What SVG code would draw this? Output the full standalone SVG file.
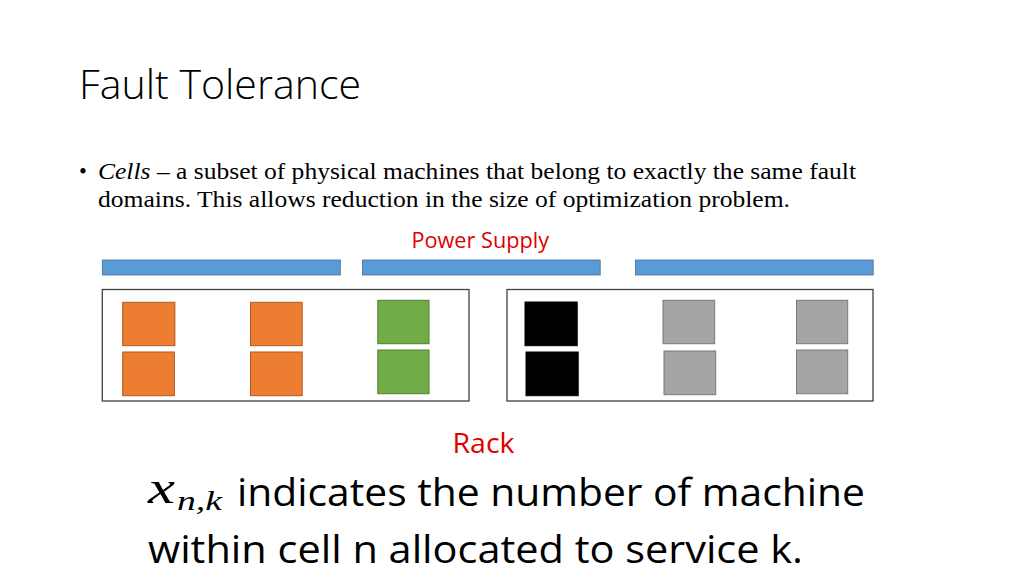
<svg xmlns="http://www.w3.org/2000/svg" width="1024" height="576" viewBox="0 0 1024 576">
<style>
.title{font-family:"Open Sans","Liberation Sans",sans-serif;font-weight:300;font-size:41px;fill:#000}
.body{font-family:"Liberation Serif",serif;font-size:22.5px;fill:#000}
.red{font-family:"Open Sans","Liberation Sans",sans-serif;fill:#E00000}
.big{font-family:"Open Sans","Liberation Sans",sans-serif;font-size:38px;fill:#000}
.math{font-family:"Liberation Serif",serif;font-style:italic;fill:#000}
.bar{fill:#5B9BD5;stroke:#41719C;stroke-width:0.8}
.rack{fill:#fff;stroke:#404040;stroke-width:1.3}
.or{fill:#ED7D31;stroke:#AE5A21;stroke-width:1}
.gr{fill:#70AD47;stroke:#507E32;stroke-width:1}
.bk{fill:#000;stroke:#000;stroke-width:1}
.gy{fill:#A5A5A5;stroke:#787878;stroke-width:1}
</style>
<rect width="1024" height="576" fill="#fff"/>
<text class="title" x="79" y="99" textLength="282" lengthAdjust="spacingAndGlyphs">Fault Tolerance</text>
<text class="body" x="79" y="179">•</text>
<text class="body" x="98" y="179" textLength="758" lengthAdjust="spacingAndGlyphs"><tspan font-style="italic">Cells</tspan> – a subset of physical machines that belong to exactly the same fault</text>
<text class="body" x="98" y="206.5" textLength="692" lengthAdjust="spacingAndGlyphs">domains. This allows reduction in the size of optimization problem.</text>
<g id="power-supply">
<text class="red" x="411.5" y="247.7" font-size="21" textLength="137.5" lengthAdjust="spacingAndGlyphs">Power Supply</text>
<rect class="bar" x="102.3" y="260" width="238" height="15"/>
<rect class="bar" x="362.5" y="260" width="237.7" height="15"/>
<rect class="bar" x="635.5" y="260" width="237.7" height="15"/>
</g>
<g id="rack1">
<rect class="rack" x="102.3" y="289.5" width="366.7" height="111.5"/>
<rect class="or" x="122.7" y="302.3" width="52.2" height="43.4"/>
<rect class="or" x="122.7" y="352" width="51.7" height="43.7"/>
<rect class="or" x="250.5" y="302.3" width="51.7" height="43.4"/>
<rect class="or" x="250.5" y="352" width="51.7" height="43.7"/>
<rect class="gr" x="377.8" y="300.3" width="51.2" height="43.4"/>
<rect class="gr" x="377.8" y="350" width="51.2" height="43.7"/>
</g>
<g id="rack2">
<rect class="rack" x="507" y="289.5" width="366" height="111.5"/>
<rect class="bk" x="525" y="302" width="52.2" height="43.7"/>
<rect class="bk" x="526" y="352" width="52.2" height="43.7"/>
<rect class="gy" x="663" y="300.3" width="51.7" height="43.4"/>
<rect class="gy" x="664" y="351" width="51.7" height="43.7"/>
<rect class="gy" x="796.5" y="300.3" width="51.2" height="43.4"/>
<rect class="gy" x="796.5" y="350" width="51.2" height="43.7"/>
</g>
<text class="red" x="452.5" y="453" font-size="27" textLength="62" lengthAdjust="spacingAndGlyphs">Rack</text>
<text class="math" x="148" y="503" font-size="46" textLength="27" lengthAdjust="spacingAndGlyphs">x</text>
<text class="math" x="177" y="510" font-size="28" textLength="45" lengthAdjust="spacingAndGlyphs">n,k</text>
<text class="big" x="237" y="506" textLength="628" lengthAdjust="spacingAndGlyphs">indicates the number of machine</text>
<text class="big" x="148" y="563" textLength="655" lengthAdjust="spacingAndGlyphs">within cell n allocated to service k.</text>
</svg>
